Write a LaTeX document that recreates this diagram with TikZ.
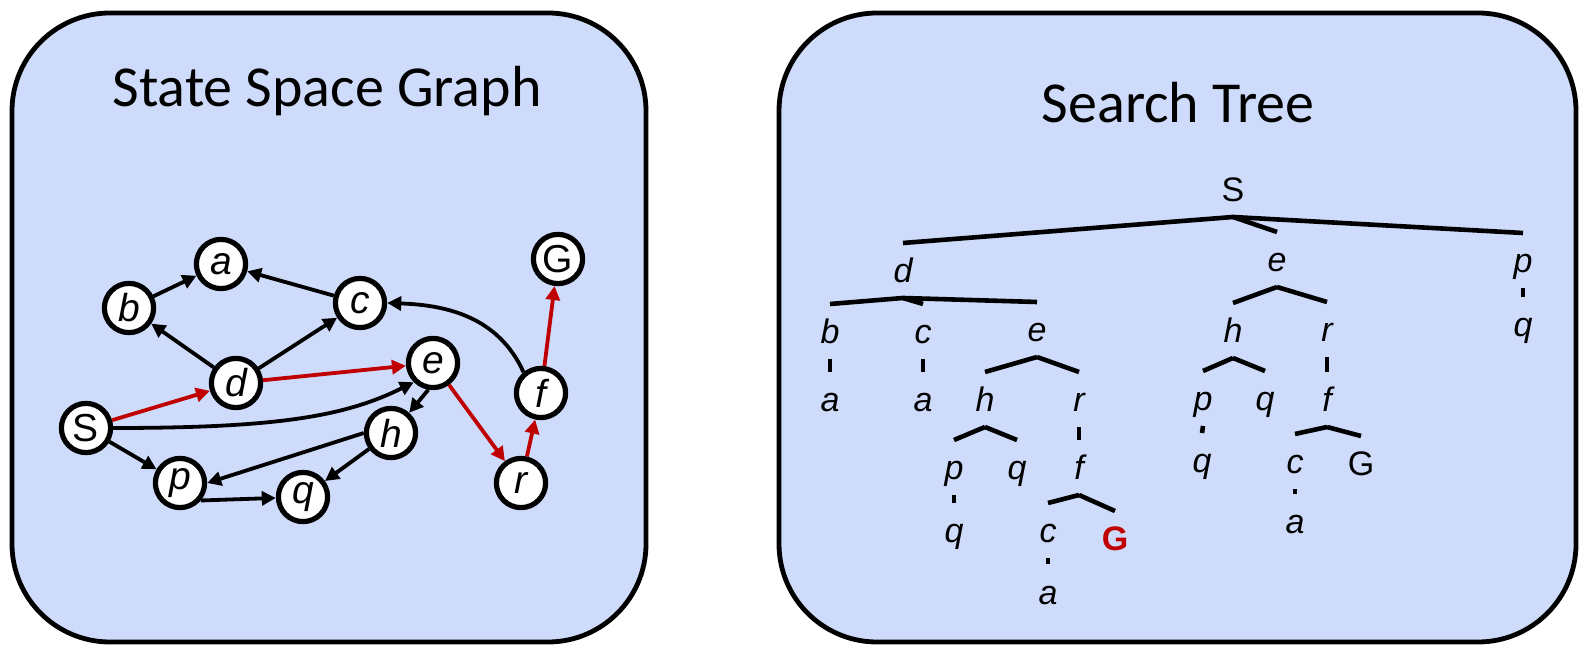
\documentclass[tikz,border=0pt]{standalone}
\usepackage{fontspec}
\setmainfont{Liberation Sans}
\newfontfamily\titlefont{Carlito}
\usetikzlibrary{arrows.meta}
\definecolor{panelblue}{RGB}{206,219,250}
\definecolor{pathred}{RGB}{192,0,0}

\begin{document}
\begin{tikzpicture}[
	x=0.5pt, y=-0.5pt,
	panel/.style = {draw, line width=2.4pt, fill=panelblue, rounded corners=49pt},
	title/.style = {anchor=base, inner sep=0pt, font=\titlefont\fontsize{29}{33}\selectfont},
	state/.style = {draw, circle, line width=2.6pt, fill=white, minimum size=24.6pt, inner sep=0pt, font=\fontsize{19.5}{21}\selectfont\itshape},
	arc/.style = {line width=1.9pt, -{Triangle[length=7pt, width=7pt]}},
	goal/.style = {arc, pathred},
	treenode/.style = {anchor=base, inner sep=0pt, font=\fontsize{17}{19}\selectfont\itshape},
	branch/.style = {line width=2.3pt}]
	
	\useasboundingbox (0,0) rectangle (1588,656);
	\draw[panel] (12,13) rectangle (646,642);
	\draw[panel] (779,13) rectangle (1576,642);
	\node[title] (graphtitle) at (327,107) {State Space Graph};
	\node[title] (treetitle) at (1178,123) {Search Tree};
	
	% state space graph
	\foreach \s/\x/\y/\txt in {S/86/428/{\upshape S}, a/221/264/a, b/129/308/b, c/360/303/c, d/236/383/d, e/433/363/e, f/541/393/f, G/558/259/{\upshape G}, h/391/433/h, p/180/483/p, q/303/497/q, r/521/483/r}
	{
		\node[state] (\s) at (\x,\y) {\txt};
	}
	\draw[arc] (b) -- (a);
	\draw[arc] (c) -- (a);
	\draw[arc] (d) -- (b);
	\draw[arc] (d) -- (c);
	\draw[arc] (S) -- (p);
	\draw[arc] (p.-40) -- (q.182);
	\draw[arc] (h.west) -- (p.east);
	\draw[arc] (h) -- (q);
	\draw[arc] (e.260) -- (h.48);
	\draw[arc] (S.east) .. controls +(160,0) and +(-70,35) .. (e.225);
	\draw[arc] (f.130) .. controls +(-25,-55) and +(60,2) .. (c.east);
	\draw[goal] (S) -- (d);
	\draw[goal] (d) -- (e);
	\draw[goal] (e) -- (r);
	\draw[goal] (r) -- (f);
	\draw[goal] (f) -- (G);
	
	% search tree
	\foreach \nd/\x/\y/\txt in {tS/1233/202/{\upshape S},
		tSd/903/283/d, tSe/1277/272/e, tSp/1523/273/p,
		tSdb/830/344/b, tSdc/923/344/c, tSde/1037/342/e, tSeh/1233/343/h, tSer/1327/342/r, tSpq/1523/337/q,
		tSdba/830/412/a, tSdca/923/412/a, tSdeh/985/412/h, tSder/1079/412/r, tSehp/1203/411/p, tSehq/1265/411/q, tSerf/1327/412/f,
		tSdehp/954/480/p, tSdehq/1017/480/q, tSderf/1079/480/f, tSehpq/1202/473/q, tSerfc/1295/474/c, tSerfG/1361/476/{\upshape G},
		tSdehpq/954/543/q, tSderfc/1048/543/c, tSderfG/1115/551/{\upshape\bfseries\color{pathred}G}, tSerfca/1295/534/a,
		tSderfca/1048/604/a}
	{
		\node[treenode] (\nd) at (\x,\y) {\txt};
	}
	\foreach \pa/\ch in {tS/tSd, tS/tSe, tS/tSp, tSd/tSdb, tSd/tSdc, tSd/tSde, tSe/tSeh, tSe/tSer, tSp/tSpq,
		tSdb/tSdba, tSdc/tSdca, tSde/tSdeh, tSde/tSder, tSeh/tSehp, tSeh/tSehq, tSer/tSerf,
		tSdeh/tSdehp, tSdeh/tSdehq, tSder/tSderf, tSehp/tSehpq, tSerf/tSerfc, tSerf/tSerfG,
		tSdehp/tSdehpq, tSderf/tSderfc, tSderf/tSderfG, tSerfc/tSerfca, tSderfc/tSderfca}
	{
		\draw[branch] ([yshift=-7.5pt]\pa.base) -- ([yshift=20pt]\ch.base);
	}
\end{tikzpicture}
\end{document}
